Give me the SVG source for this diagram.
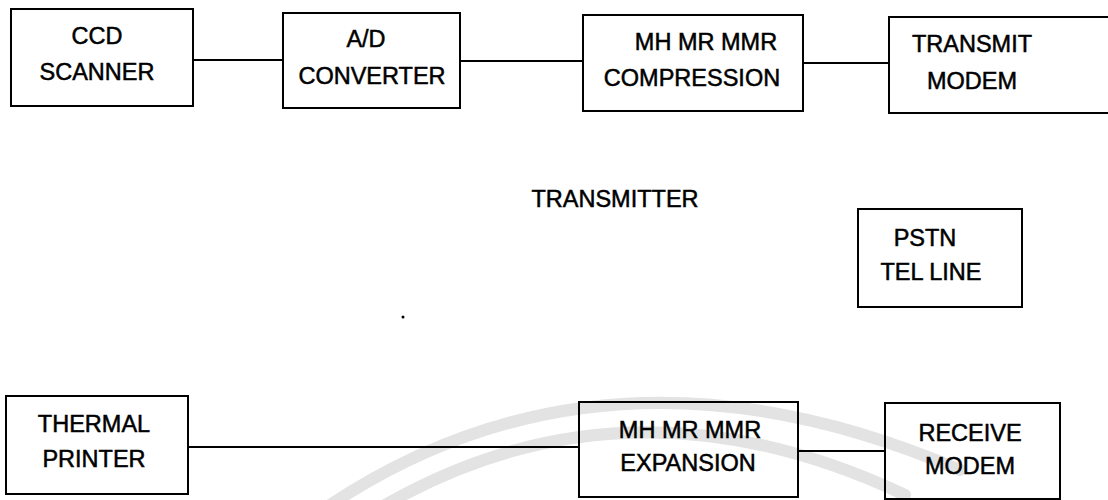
<svg xmlns="http://www.w3.org/2000/svg" width="1108" height="500" viewBox="0 0 1108 500">
<style>
.box{fill:none;stroke:#000;stroke-width:2}
.ln{stroke:#000;stroke-width:2;fill:none}
.t{font-family:"Liberation Sans",Arial,Helvetica,sans-serif;font-size:23.5px;fill:#000;stroke:#000;stroke-width:0.5;text-anchor:middle}
.wm{fill:none;stroke:#e3e3e3;stroke-width:12;stroke-linecap:round}
</style>
<rect width="1108" height="500" fill="#fff"/>
<g id="watermark">
<path class="wm" d="M 330 505 Q 610 320 960 470"/>
<path class="wm" d="M 385 505 Q 630 365 905 495"/>
</g>
<g id="connectors">
<line class="ln" x1="193" y1="60" x2="283" y2="60"/>
<line class="ln" x1="460" y1="61" x2="583" y2="61"/>
<line class="ln" x1="803" y1="63" x2="889" y2="63"/>
<line class="ln" x1="188" y1="447" x2="579" y2="447"/>
<line class="ln" x1="798" y1="451" x2="885" y2="451"/>
</g>
<g id="ccd">
<rect class="box" x="11" y="9" width="182" height="97"/>
<text class="t" x="97" y="44">CCD</text>
<text class="t" x="97" y="80">SCANNER</text>
</g>
<g id="adc">
<rect class="box" x="283" y="13" width="177" height="95"/>
<text class="t" x="366" y="47">A/D</text>
<text class="t" x="372" y="84">CONVERTER</text>
</g>
<g id="compression">
<rect class="box" x="583" y="15" width="220" height="96"/>
<text class="t" x="706" y="50">MH MR MMR</text>
<text class="t" x="692" y="86">COMPRESSION</text>
</g>
<g id="txmodem">
<rect class="box" x="889" y="17" width="230" height="96"/>
<text class="t" x="972" y="52">TRANSMIT</text>
<text class="t" x="972" y="89">MODEM</text>
</g>
<g id="transmitter-label">
<text class="t" x="615" y="207">TRANSMITTER</text>
</g>
<g id="pstn">
<rect class="box" x="858" y="209" width="164" height="98"/>
<text class="t" x="925" y="246">PSTN</text>
<text class="t" x="931" y="280">TEL LINE</text>
</g>
<g id="printer">
<rect class="box" x="6" y="396" width="182" height="98"/>
<text class="t" x="94" y="432">THERMAL</text>
<text class="t" x="94" y="467">PRINTER</text>
</g>
<g id="expansion">
<rect class="box" x="579" y="402" width="219" height="95"/>
<text class="t" x="690" y="438">MH MR MMR</text>
<text class="t" x="688" y="471">EXPANSION</text>
</g>
<g id="rxmodem">
<rect class="box" x="885" y="403" width="175" height="96"/>
<text class="t" x="970" y="441">RECEIVE</text>
<text class="t" x="970" y="474">MODEM</text>
</g>
<circle cx="403" cy="317" r="1.5" fill="#000"/>
</svg>
